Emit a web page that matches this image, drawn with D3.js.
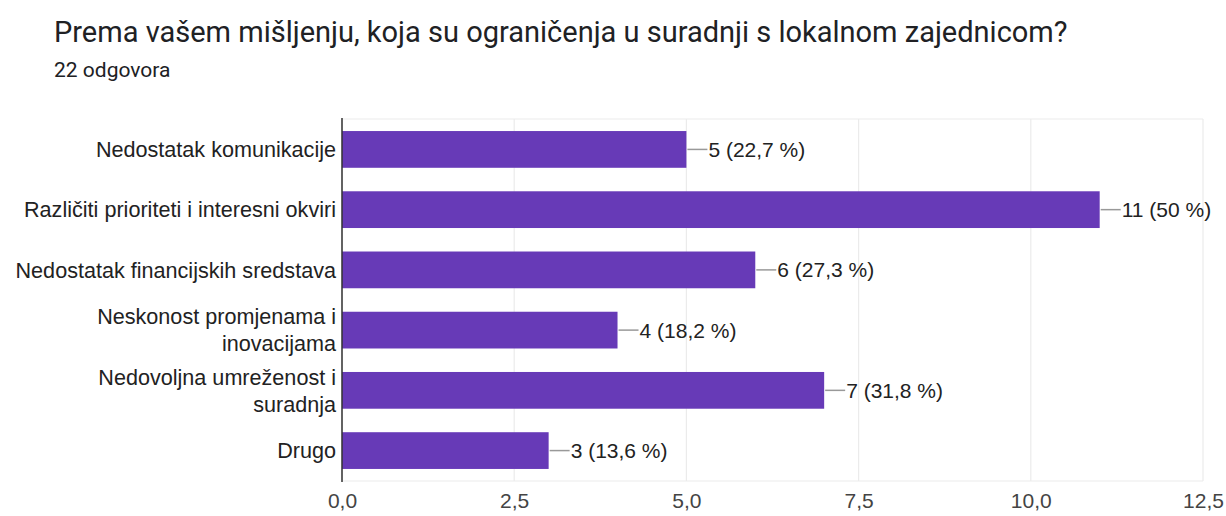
<!DOCTYPE html>
<html>
<head>
<meta charset="utf-8">
<script src="https://cdn.jsdelivr.net/npm/d3@7"></script>
<style>
  body { margin: 0; background: #fff; }
</style>
</head>
<body>
<div id="chart-area"></div>
<script>
// Data
const categories = [
    ['Nedostatak komunikacije'],
    ['Različiti prioriteti i interesni okviri'],
    ['Nedostatak financijskih sredstava'],
    ['Neskonost promjenama i', 'inovacijama'],
    ['Nedovoljna umreženost i', 'suradnja'],
    ['Drugo']
];
const counts = [5, 11, 6, 4, 7, 3];
const percents = ['22,7', '50', '27,3', '18,2', '31,8', '13,6'];
const ticks = [0, 2.5, 5, 7.5, 10, 12.5];

const totalWidth = 1226;
const totalHeight = 516;
const margin = { left: 342, right: 23, top: 119, bottom: 35 };
const width = totalWidth - margin.left - margin.right;
const height = totalHeight - margin.top - margin.bottom;
const labelFont = 'Arial, "Liberation Sans", sans-serif';

const svg = d3.select('#chart-area')
    .append('svg')
    .attr('width', totalWidth)
    .attr('height', totalHeight);

// Title
svg.append('text')
    .attr('x', 54)
    .attr('y', 42)
    .attr('font-family', 'Roboto, sans-serif')
    .attr('font-size', '29px')
    .attr('fill', '#202124')
    .text('Prema vašem mišljenju, koja su ograničenja u suradnji s lokalnom zajednicom?');

svg.append('text')
    .attr('x', 54)
    .attr('y', 77)
    .attr('font-family', 'Roboto, sans-serif')
    .attr('font-size', '21px')
    .attr('fill', '#202124')
    .text('22 odgovora');

const g = svg.append('g')
    .attr('transform', 'translate(' + margin.left + ', ' + margin.top + ')');

const x = d3.scaleLinear()
    .domain([0, 12.5])
    .range([0, width]);

const y = d3.scaleBand()
    .domain(d3.range(categories.length))
    .range([0, height])
    .paddingInner(0.39)
    .paddingOuter(0.2);

// Grid lines
g.selectAll('line.grid')
    .data(ticks)
    .enter()
    .append('line')
    .attr('class', 'grid')
    .attr('x1', (d) => x(d))
    .attr('x2', (d) => x(d))
    .attr('y1', 0)
    .attr('y2', height)
    .attr('stroke', '#ebebeb')
    .attr('stroke-width', 1.2);

g.append('line')
    .attr('x1', 0)
    .attr('x2', width)
    .attr('y1', 0)
    .attr('y2', 0)
    .attr('stroke', '#ebebeb')
    .attr('stroke-width', 1.2);

g.append('line')
    .attr('x1', 0)
    .attr('x2', width)
    .attr('y1', height)
    .attr('y2', height)
    .attr('stroke', '#ebebeb')
    .attr('stroke-width', 1.2);

// X axis
const xAxisCall = d3.axisBottom(x)
    .tickValues(ticks)
    .tickSize(0)
    .tickPadding(12)
    .tickFormat((d) => d3.format('.1f')(d).replace('.', ','));
const xAxis = g.append('g')
    .attr('transform', 'translate(0, ' + height + ')')
    .call(xAxisCall);
xAxis.select('.domain').remove();
xAxis.selectAll('text')
    .attr('font-family', labelFont)
    .attr('font-size', '21px')
    .attr('fill', '#444');

// Bars
g.selectAll('rect.bar')
    .data(counts)
    .enter()
    .append('rect')
    .attr('class', 'bar')
    .attr('x', 0)
    .attr('y', (d, i) => y(i))
    .attr('width', (d) => x(d))
    .attr('height', y.bandwidth())
    .attr('fill', '#673ab7');

// Leader lines and value labels
g.selectAll('line.leader')
    .data(counts)
    .enter()
    .append('line')
    .attr('class', 'leader')
    .attr('x1', (d) => x(d) + 1)
    .attr('x2', (d) => x(d) + 21)
    .attr('y1', (d, i) => y(i) + y.bandwidth() / 2)
    .attr('y2', (d, i) => y(i) + y.bandwidth() / 2)
    .attr('stroke', '#999')
    .attr('stroke-width', 1.5);

g.selectAll('text.value')
    .data(counts)
    .enter()
    .append('text')
    .attr('class', 'value')
    .attr('x', (d) => x(d) + 22)
    .attr('y', (d, i) => y(i) + y.bandwidth() / 2)
    .attr('dy', '0.36em')
    .attr('font-family', labelFont)
    .attr('font-size', '21px')
    .attr('fill', '#222')
    .text((d, i) => d + ' (' + percents[i] + ' %)');

// Category labels
const labels = g.selectAll('text.cat')
    .data(categories)
    .enter()
    .append('text')
    .attr('class', 'cat')
    .attr('text-anchor', 'end')
    .attr('font-family', labelFont)
    .attr('font-size', '21.6px')
    .attr('fill', '#222')
    .attr('transform', (d, i) => 'translate(-6, ' + (y(i) + y.bandwidth() / 2) + ')');

labels.selectAll('tspan')
    .data((d) => d.map((line, j) => ({ line: line, j: j, n: d.length })))
    .enter()
    .append('tspan')
    .attr('x', 0)
    .attr('y', (d) => (d.j - (d.n - 1) / 2) * 27)
    .attr('dy', '0.36em')
    .text((d) => d.line);

// Y axis line
g.append('line')
    .attr('x1', 0)
    .attr('x2', 0)
    .attr('y1', -1)
    .attr('y2', height + 1)
    .attr('stroke', '#333')
    .attr('stroke-width', 1.5);
</script>
</body>
</html>
